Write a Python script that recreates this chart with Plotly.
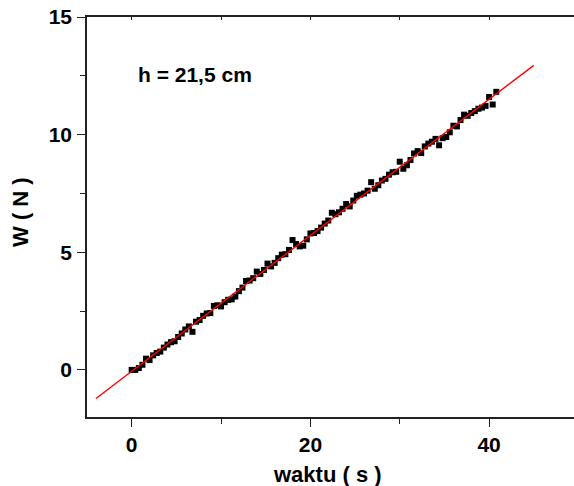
import numpy as np
import plotly.graph_objects as go

# Data
waktu = [0.0, 0.4, 0.8, 1.2, 1.6, 2.0, 2.4, 2.8, 3.2, 3.6,
         4.0, 4.4, 4.8, 5.2, 5.6, 6.0, 6.4, 6.8, 7.2, 7.6,
         8.0, 8.4, 8.8, 9.2, 9.6, 10.0, 10.4, 10.8, 11.2, 11.6,
         12.0, 12.4, 12.8, 13.2, 13.6, 14.0, 14.4, 14.8, 15.2, 15.6,
         16.0, 16.4, 16.8, 17.2, 17.6, 18.0, 18.4, 18.8, 19.2, 19.6,
         20.0, 20.4, 20.8, 21.2, 21.6, 22.0, 22.4, 22.8, 23.2, 23.6,
         24.0, 24.4, 24.8, 25.2, 25.6, 26.0, 26.4, 26.8, 27.2, 27.6,
         28.0, 28.4, 28.8, 29.2, 29.6, 30.0, 30.4, 30.8, 31.2, 31.6,
         32.0, 32.4, 32.8, 33.2, 33.6, 34.0, 34.4, 34.8, 35.2, 35.6,
         36.0, 36.4, 36.8, 37.2, 37.6, 38.0, 38.4, 38.8, 39.2, 39.6,
         40.0, 40.4, 40.8]
W = [0.00, 0.00, 0.08, 0.22, 0.48, 0.42, 0.62, 0.72, 0.78, 0.95,
     1.08, 1.18, 1.22, 1.40, 1.55, 1.72, 1.85, 1.62, 2.05, 2.12,
     2.30, 2.40, 2.42, 2.72, 2.75, 2.70, 2.88, 2.98, 3.00, 3.12,
     3.35, 3.50, 3.78, 3.80, 3.90, 4.18, 4.08, 4.25, 4.52, 4.40,
     4.55, 4.75, 4.90, 4.92, 5.10, 5.52, 5.35, 5.25, 5.28, 5.55,
     5.80, 5.82, 5.90, 6.05, 6.22, 6.35, 6.68, 6.62, 6.70, 6.85,
     7.05, 6.95, 7.20, 7.40, 7.45, 7.50, 7.62, 7.98, 7.70, 7.85,
     8.05, 8.12, 8.30, 8.40, 8.42, 8.85, 8.55, 8.70, 8.92, 9.20,
     9.30, 9.22, 9.50, 9.62, 9.70, 9.82, 9.55, 9.85, 9.90, 10.10,
     10.38, 10.35, 10.62, 10.85, 10.80, 10.92, 11.00, 11.10, 11.15, 11.22,
     11.60, 11.28, 11.82]

fit_x = [-4.0, 45.0]
x_ticks = [0, 20, 40]
y_ticks = [0, 5, 10, 15]
label_text = "h = 21,5 cm"
x_title = "waktu ( s )"
y_title = "W ( N )"

slope, intercept = np.polyfit(waktu, W, 1)
fit_y = [slope * v + intercept for v in fit_x]

FONT = "Liberation Sans, Arial, sans-serif"
AX = "#222222"

fig = go.Figure()
fig.add_trace(go.Scatter(x=waktu, y=W, mode="markers",
                         marker=dict(symbol="square", size=6, color="black"),
                         showlegend=False))
fig.add_trace(go.Scatter(x=fit_x, y=fit_y, mode="lines",
                         line=dict(color="#ff0000", width=1.4),
                         showlegend=False))
# invisible trace for top mirror axis
fig.add_trace(go.Scatter(x=fit_x, y=fit_y, xaxis="x2", mode="lines",
                         line=dict(width=0), hoverinfo="skip", showlegend=False))

xr = [-5, 49.5]
fig.update_layout(
    width=574, height=486,
    margin=dict(l=87, r=0, t=17, b=69),
    paper_bgcolor="white", plot_bgcolor="white",
    font=dict(family=FONT, color="black"),
    xaxis=dict(range=xr, tickvals=x_ticks, ticks="outside", ticklen=8, tickwidth=1.3,
               tickcolor=AX, showline=True, linecolor=AX, linewidth=1.6,
               showgrid=False, zeroline=False, automargin=False,
               tickfont=dict(size=21, family=FONT, weight="bold"),
               ticklabelstandoff=0,
               minor=dict(tickvals=[10, 30], ticks="outside", ticklen=5, tickcolor=AX, tickwidth=1.3)),
    xaxis2=dict(range=xr, overlaying="x", side="top", tickvals=[0, 10, 20, 30, 40],
                ticks="inside", ticklen=3, tickwidth=1, tickcolor=AX,
                showticklabels=False, showline=True, linecolor=AX, linewidth=1.6,
                showgrid=False, zeroline=False, automargin=False),
    yaxis=dict(range=[-2, 15], tickvals=y_ticks, ticks="outside", ticklen=8, tickwidth=1.3,
               tickcolor=AX, showline=True, linecolor=AX, linewidth=1.6,
               showgrid=False, zeroline=False, automargin=False,
               tickfont=dict(size=21, family=FONT, weight="bold"),
               ticklabelstandoff=1,
               minor=dict(tickvals=[2.5, 7.5, 12.5], ticks="outside", ticklen=5, tickcolor=AX, tickwidth=1.3)),
    annotations=[
        dict(x=0.5, y=12.55, xref="x", yref="y", text="<b>" + label_text + "</b>",
             showarrow=False, xanchor="left", yanchor="middle",
             font=dict(size=21, family=FONT, color="black")),
        dict(x=(327 - 87) / 487, y=-0.1425, xref="paper", yref="paper",
             text="<b>" + x_title + "</b>", showarrow=False,
             xanchor="center", yanchor="middle",
             font=dict(size=22, family=FONT, color="black")),
        dict(x=-0.1376, y=0.5125, xref="paper", yref="paper",
             text="<b>" + y_title + "</b>", showarrow=False, textangle=-90,
             xanchor="center", yanchor="middle",
             font=dict(size=22, family=FONT, color="black")),
    ],
)

fig.write_html("out.html", config={"displayModeBar": False},
               post_script="document.body.style.margin='0';document.body.style.overflow='hidden';")
